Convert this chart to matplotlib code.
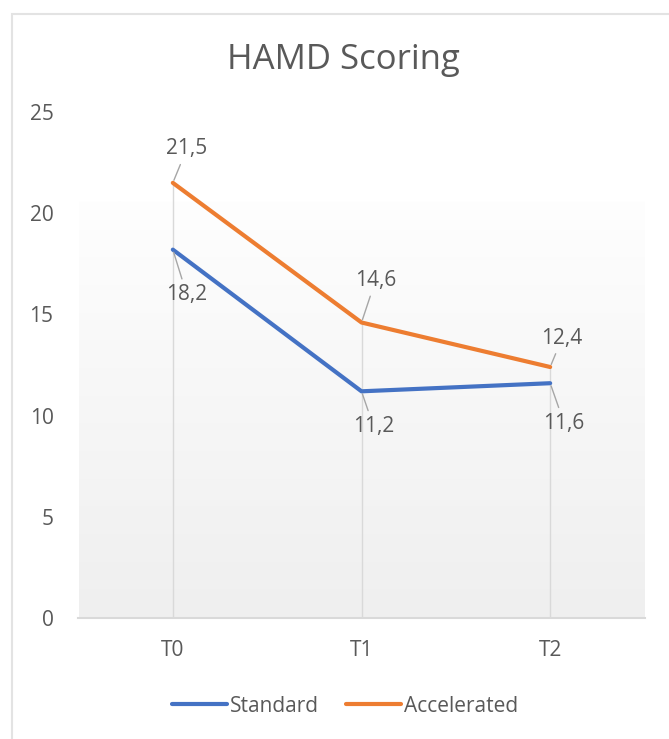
import numpy as np
import matplotlib.pyplot as plt
from matplotlib.colors import LinearSegmentedColormap
from matplotlib.patches import Rectangle

plt.rcParams['font.family'] = ['Open Sans', 'DejaVu Sans']

categories = ['T0', 'T1', 'T2']
standard = [18.2, 11.2, 11.6]
accelerated = [21.5, 14.6, 12.4]
series_names = ['Standard', 'Accelerated']
y_ticks = [0, 5, 10, 15, 20, 25]

blue = '#4472C4'
orange = '#ED7D31'
text_col = '#595959'
grid_col = '#d9d9d9'

fig = plt.figure(figsize=(6.69, 7.39), dpi=100)
ax = fig.add_axes([78.5 / 669, 1 - 618 / 739, 566 / 669, 506 / 739])

# outer chart frame
fig.patches.append(Rectangle((12 / 669, -0.1), 1.2, 1 - 14 / 739 + 0.1,
                             transform=fig.transFigure, fill=False,
                             ec='#e3e3e3', lw=1.5))

x = np.arange(len(categories))

# gradient plot-area fill
cmap = LinearSegmentedColormap.from_list('g', ['#fefefe', '#efefef'])
grad = np.linspace(0, 1, 256).reshape(-1, 1)
ax.imshow(grad, cmap=cmap, extent=[-0.5, 2.5, 0, 20.6], aspect='auto',
          origin='upper', zorder=0)

# drop lines
tops = np.maximum(standard, accelerated)
ax.vlines(x, 0, tops, color=grid_col, lw=1, zorder=1)

ax.plot(x, standard, color=blue, lw=3, solid_capstyle='round',
        label=series_names[0], zorder=3)
ax.plot(x, accelerated, color=orange, lw=3, solid_capstyle='round',
        label=series_names[1], zorder=3)

# data labels, offsets in pixels (right, down)
std_off = [(14, 45), (12, 35), (14, 40)]
acc_off = [(14, -34), (14, -42), (12, -29)]
for vals, offs in ((standard, std_off), (accelerated, acc_off)):
    for xi, v, (dx, dy) in zip(x, vals, offs):
        ax.annotate(f'{v:.1f}'.replace('.', ','), (xi, v),
                    xytext=(dx * 0.72, -dy * 0.72), textcoords='offset points',
                    ha='center', va='center', fontsize=15, color=text_col,
                    bbox=dict(boxstyle='square,pad=0.25', fc='none', ec='none'),
                    arrowprops=dict(arrowstyle='-', color='#a6a6a6', lw=1,
                                    shrinkA=0, shrinkB=2),
                    zorder=4)

ax.set_xlim(-0.5, 2.5)
ax.set_ylim(0, 25)
ax.set_xticks(x)
ax.set_xticklabels(categories)
ax.set_yticks(y_ticks)
ax.tick_params(axis='both', length=0, labelsize=15, labelcolor=text_col)
ax.tick_params(axis='y', pad=18)
ax.tick_params(axis='x', pad=16)
for s in ['top', 'right', 'left']:
    ax.spines[s].set_visible(False)
ax.spines['bottom'].set_color(grid_col)
ax.spines['bottom'].set_linewidth(1.5)
ax.patch.set_alpha(0)

fig.text(343 / 669, 1 - 60 / 739, 'HAMD Scoring', ha='center', va='center',
         fontsize=25, color=text_col)

fig.legend(loc='center', bbox_to_anchor=(345 / 669, 1 - 706 / 739), ncol=2,
           frameon=False, fontsize=15, handlelength=2.65, handletextpad=0.15,
           columnspacing=1.3, labelcolor=text_col)

fig.savefig('out.png', dpi=100)
